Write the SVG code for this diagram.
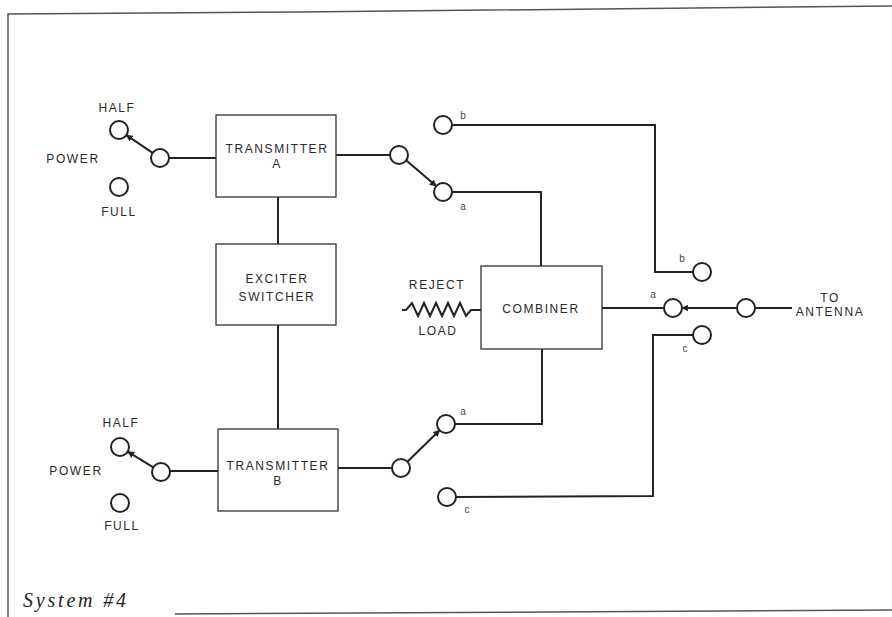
<svg xmlns="http://www.w3.org/2000/svg" width="892" height="617" viewBox="0 0 892 617">
<defs>
<style>
.frame{fill:none;stroke:#555;stroke-width:1.5}
.box{fill:#fff;stroke:#333;stroke-width:1.3}
.w{fill:none;stroke:#222;stroke-width:2}
.c{fill:#fff;stroke:#222;stroke-width:2}
.t{font-family:"Liberation Sans",Arial,sans-serif;font-size:12px;letter-spacing:1.6px;fill:#2a2a2a;text-anchor:middle}
.s{font-family:"Liberation Sans",Arial,sans-serif;font-size:10px;fill:#444;text-anchor:middle}
.cap{font-family:"Liberation Serif","Times New Roman",serif;font-style:italic;font-size:20px;letter-spacing:2.8px;fill:#222}
</style>
<marker id="ah" viewBox="0 0 10 10" refX="9" refY="5" markerWidth="7" markerHeight="7" markerUnits="userSpaceOnUse" orient="auto">
<path d="M0,0 L10,5 L0,10 z" fill="#222"/>
</marker>
</defs>
<rect width="892" height="617" fill="#fff"/>
<g id="frame">
<path class="frame" d="M8,617 L8,14 L300,12 L892,6"/>
<path class="frame" d="M175,614 L892,610"/>
</g>
<g id="connectors">
<path class="w" d="M169,158 L216,158"/>
<path class="w" d="M336,155 L390,155"/>
<path class="w" d="M278,197 L278,244"/>
<path class="w" d="M278,325 L278,429"/>
<path class="w" d="M170,471 L218,471"/>
<path class="w" d="M338,468 L392,468"/>
<path class="w" d="M452,125 L655,125 L655,272 L693,272"/>
<path class="w" d="M452,192 L541,192 L541,266"/>
<path class="w" d="M455,424 L542,424 L542,349"/>
<path class="w" d="M456,497 L653,496 L653,335 L693,335"/>
<path class="w" d="M602,308 L664,308"/>
<path class="w" d="M755,308 L792,308"/>
<path class="w" d="M402,310 L406,310 L412,303 L418,316 L424,303 L430,316 L436,303 L442,316 L448,303 L454,316 L460,303 L466,316 L471,310 L481,310"/>
<path class="w" marker-end="url(#ah)" d="M152.6,152.9 L126.4,135.1"/>
<path class="w" marker-end="url(#ah)" d="M153.3,467.3 L127.7,451.7"/>
<path class="w" marker-end="url(#ah)" d="M405.8,159.9 L436.2,186.1"/>
<path class="w" marker-end="url(#ah)" d="M407.4,461.7 L439.6,430.3"/>
<path class="w" marker-end="url(#ah)" d="M737,308 L682,308"/>
</g>
<g id="powerA">
<circle class="c" cx="119" cy="130" r="9"/>
<circle class="c" cx="160" cy="158" r="9"/>
<circle class="c" cx="119" cy="187" r="9"/>
<text class="t" x="117" y="112">HALF</text>
<text class="t" x="73" y="163">POWER</text>
<text class="t" x="119" y="216">FULL</text>
</g>
<g id="transmitterA">
<rect class="box" x="216" y="115" width="120" height="82"/>
<text class="t" x="277" y="153">TRANSMITTER</text>
<text class="t" x="277" y="168">A</text>
</g>
<g id="exciter">
<rect class="box" x="216" y="244" width="120" height="81"/>
<text class="t" x="277" y="283">EXCITER</text>
<text class="t" x="277" y="301">SWITCHER</text>
</g>
<g id="transmitterB">
<rect class="box" x="218" y="429" width="120" height="82"/>
<text class="t" x="278" y="470">TRANSMITTER</text>
<text class="t" x="278" y="485">B</text>
</g>
<g id="powerB">
<circle class="c" cx="120" cy="447" r="9"/>
<circle class="c" cx="161" cy="472" r="9"/>
<circle class="c" cx="120" cy="503" r="9"/>
<text class="t" x="121" y="427">HALF</text>
<text class="t" x="76" y="475">POWER</text>
<text class="t" x="122" y="530">FULL</text>
</g>
<g id="switchA">
<circle class="c" cx="399" cy="155" r="9"/>
<circle class="c" cx="443" cy="125" r="9"/>
<circle class="c" cx="443" cy="192" r="9"/>
<text class="s" x="463" y="119">b</text>
<text class="s" x="463" y="210">a</text>
</g>
<g id="switchB">
<circle class="c" cx="401" cy="468" r="9"/>
<circle class="c" cx="446" cy="424" r="9"/>
<circle class="c" cx="447" cy="497" r="9"/>
<text class="s" x="463" y="415">a</text>
<text class="s" x="467" y="513">c</text>
</g>
<g id="rejectLoad">
<text class="t" x="437" y="289">REJECT</text>
<text class="t" x="438" y="335">LOAD</text>
</g>
<g id="combiner">
<rect class="box" x="481" y="266" width="121" height="83"/>
<text class="t" x="541" y="313">COMBINER</text>
</g>
<g id="antennaSwitch">
<circle class="c" cx="702" cy="272" r="9"/>
<circle class="c" cx="673" cy="308" r="9"/>
<circle class="c" cx="746" cy="308" r="9"/>
<circle class="c" cx="702" cy="335" r="9"/>
<text class="s" x="682" y="262">b</text>
<text class="s" x="653" y="298">a</text>
<text class="s" x="685" y="352">c</text>
<text class="t" x="830" y="302">TO</text>
<text class="t" x="830" y="316">ANTENNA</text>
</g>
<text class="cap" x="23" y="607">System #4</text>
</svg>
